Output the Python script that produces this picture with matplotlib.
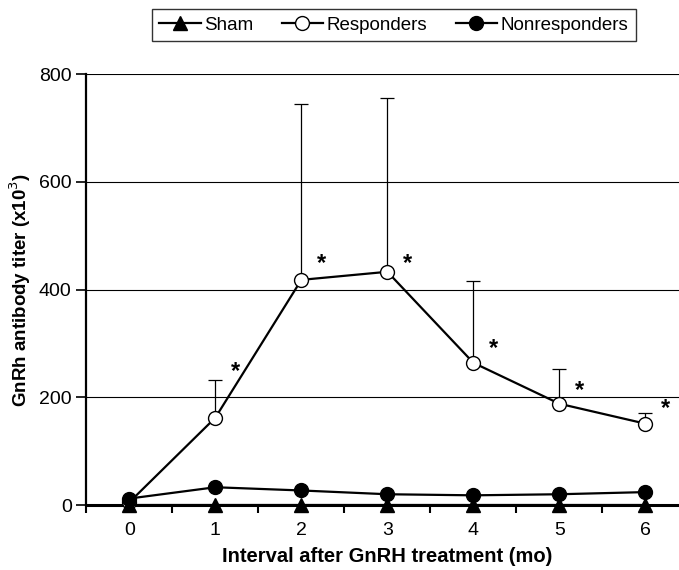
import numpy as np
import matplotlib.pyplot as plt

plt.rcParams['font.family'] = ['Liberation Sans', 'DejaVu Sans']

months = [0, 1, 2, 3, 4, 5, 6]
sham = [0, 0, 0, 0, 0, 0, 0]
responders = [5, 162, 418, 433, 264, 188, 151]
responders_err = [0, 71, 326, 322, 151, 64, 19]
nonresponders = [12, 33, 27, 20, 18, 20, 24]
# height of the significance star next to each responder point (None = no star)
star_y = [None, 247, 449, 449, 290, 212, 180]

fig = plt.figure(figsize=(6.79, 5.70), dpi=100)
ax = fig.add_axes([0.127, 0.114, 0.887, 0.756])

ax.errorbar(months, responders, yerr=[np.zeros(7), responders_err], fmt='none',
            ecolor='black', elinewidth=0.9, capsize=5, capthick=0.9, zorder=2)
l1, = ax.plot(months, sham, '-^', color='black', mfc='black', ms=10, lw=1.6,
              clip_on=False, zorder=4, label='Sham')
l2, = ax.plot(months, responders, '-o', color='black', mfc='white', ms=10,
              lw=1.6, clip_on=False, zorder=3, label='Responders')
l3, = ax.plot(months, nonresponders, '-o', color='black', mfc='black', ms=10,
              lw=1.6, clip_on=False, zorder=3, label='Nonresponders')

for x, sy in zip(months, star_y):
    if sy is not None:
        ax.text(x + 0.23, sy, '*', fontsize=17, fontweight='bold',
                ha='center', va='center')

ax.set_xlim(-0.5, 6.5)
ax.set_ylim(0, 800)
ax.set_yticks([0, 200, 400, 600, 800])
ax.set_xticks(months)
ax.set_xticks(np.arange(-0.5, 7, 1), minor=True)
ax.tick_params(axis='x', which='major', length=0, labelsize=14, pad=12)
ax.tick_params(axis='x', which='minor', length=6, width=1.5, direction='out')
ax.tick_params(axis='y', length=7, width=1.2, labelsize=14)
ax.yaxis.grid(True, color='black', lw=0.8)
ax.set_axisbelow(True)
for side in ['top', 'right']:
    ax.spines[side].set_visible(False)
ax.spines['left'].set_linewidth(1.6)
ax.spines['bottom'].set_linewidth(2.2)

ax.set_xlabel('Interval after GnRH treatment (mo)', fontsize=14.5,
              fontweight='bold', labelpad=6)
ax.set_ylabel('GnRh antibody titer (x10$^{3}$)', fontsize=13.5,
              fontweight='bold', labelpad=4)

fig.legend(handles=[l1, l2, l3], loc='center', bbox_to_anchor=(0.58, 0.956),
           ncol=3, frameon=True, fancybox=False, edgecolor='black',
           fontsize=13.5, handlelength=2.2, columnspacing=1.5,
           handletextpad=0.2, borderpad=0.4)

fig.savefig('out.png', dpi=100)
